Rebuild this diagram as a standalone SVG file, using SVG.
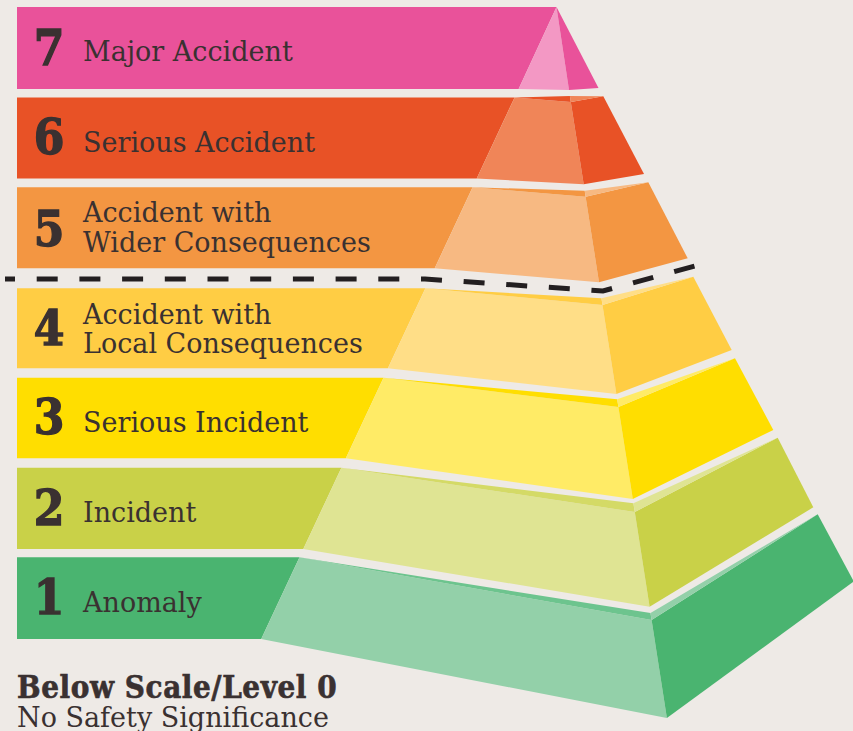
<svg xmlns="http://www.w3.org/2000/svg" width="853" height="731" viewBox="0 0 853 731">
<style>
.num{font-family:"DejaVu Serif Condensed","DejaVu Serif",serif;font-weight:bold;font-size:49px;fill:#3a3131;stroke:#3a3131;stroke-width:1.3;text-anchor:middle}
.lbl{font-family:"DejaVu Serif",serif;font-size:27px;fill:#3a3131}
.l7d{fill:#e9529a}.l7l{fill:#f398c4}
.l6d{fill:#e85226}.l6l{fill:#f08558}
.l5d{fill:#f39642}.l5l{fill:#f7b982}
.l4d{fill:#ffcd44}.l4l{fill:#ffde87}
.l3d{fill:#ffde00}.l3l{fill:#ffeb66}
.l2d{fill:#c9d148}.l2l{fill:#dfe493}.l2s{fill:#d4da66}
.l1d{fill:#4ab470}.l1l{fill:#93d0a9}.l1s{fill:#6dc48e}
</style>
<rect width="853" height="731" fill="#eeeae6"/>
<g id="level7">
<polygon class="l7d" points="17,7 556.5,7 518.6,89 17,89"/>
<polygon class="l7l" points="556.5,7 569,90 518.6,89"/>
<polygon class="l7d" points="556.5,7 598.5,88 569,90"/>
<text class="num" x="49" y="65">7</text>
<text class="lbl" x="83" y="61">Major Accident</text>
</g>
<g id="level6">
<polygon class="l6d" points="17,97.5 514.6,97.5 476.7,178.5 17,178.5"/>
<polygon class="l6l" points="514.6,97.5 570.8,102 583.7,184.3 476.7,178.5"/>
<polygon class="l6d" points="514.6,97.5 569.9,96 570.8,102"/>
<polygon class="l6d" points="570.8,102 603.3,96.3 644,174 583.7,184.3"/>
<polygon class="l6l" points="569.9,96 603.3,96.3 570.8,102"/>
<text class="num" x="49" y="154">6</text>
<text class="lbl" x="83" y="151.5">Serious Accident</text>
</g>
<g id="level5">
<polygon class="l5d" points="17,187.3 472.6,187.3 434.7,268.3 17,268.3"/>
<polygon class="l5l" points="472.6,187.3 585.6,196.7 599,282.3 434.7,268.3"/>
<polygon class="l5d" points="472.6,187.3 584.7,190.7 585.6,196.7"/>
<polygon class="l5d" points="585.6,196.7 648.3,182.3 687.7,258.3 599,282.3"/>
<polygon class="l5l" points="584.7,190.7 648.3,182.3 585.6,196.7"/>
<text class="num" x="49" y="246">5</text>
<text class="lbl" x="83" y="221.5">Accident with</text>
<text class="lbl" x="83" y="252">Wider Consequences</text>
</g>
<g id="level4">
<polygon class="l4d" points="17,288.3 425.4,288.3 387.9,368.3 17,368.3"/>
<polygon class="l4l" points="425.4,288.3 602.5,305 616.4,394 387.9,368.3"/>
<polygon class="l4d" points="425.4,288.3 601.4,298.3 602.5,305"/>
<polygon class="l4d" points="602.5,305 693.3,276.7 731.7,350 616.4,394"/>
<polygon class="l4l" points="601.4,298.3 693.3,276.7 602.5,305"/>
<text class="num" x="49" y="345">4</text>
<text class="lbl" x="83" y="324">Accident with</text>
<text class="lbl" x="83" y="352.5">Local Consequences</text>
</g>
<g id="level3">
<polygon class="l3d" points="17,377.7 383.5,377.7 345.8,458.3 17,458.3"/>
<polygon class="l3l" points="383.5,377.7 618.4,407 632.8,499 345.8,458.3"/>
<polygon class="l3d" points="383.5,377.7 617.2,399.3 618.4,407"/>
<polygon class="l3d" points="618.4,407 735,358.3 773.3,430 632.8,499"/>
<polygon class="l3l" points="617.2,399.3 735,358.3 618.4,407"/>
<text class="num" x="49" y="434">3</text>
<text class="lbl" x="83" y="431.5">Serious Incident</text>
</g>
<g id="level2">
<polygon class="l2d" points="17,467.7 341.4,467.7 303.3,549 17,549"/>
<polygon class="l2l" points="341.4,467.7 634.8,512 649.6,606.7 303.3,549"/>
<polygon class="l2s" points="341.4,467.7 633.4,503.3 634.8,512"/>
<polygon class="l2d" points="634.8,512 777.7,437.7 813.3,507.3 649.6,606.7"/>
<polygon class="l2l" points="633.4,503.3 777.7,437.7 634.8,512"/>
<text class="num" x="49" y="525">2</text>
<text class="lbl" x="83" y="522">Incident</text>
</g>
<g id="level1">
<polygon class="l1d" points="17,557.3 299.5,557.3 261.2,639 17,639"/>
<polygon class="l1l" points="299.5,557.3 651.6,620 666.9,718 261.2,639"/>
<polygon class="l1s" points="299.5,557.3 650.5,613 651.6,620"/>
<polygon class="l1d" points="651.6,620 817.7,514.3 853,580 853,582 666.9,718"/>
<polygon class="l1l" points="650.5,613 817.7,514.3 651.6,620"/>
<text class="num" x="49" y="614">1</text>
<text class="lbl" x="83" y="611.5">Anomaly</text>
</g>
<g id="connectors">
<path d="M5,279 L425,279 L603,291 L702,264" fill="none" stroke="#231f20" stroke-width="5" stroke-dasharray="21 21.7" stroke-dashoffset="11"/>
</g>
<g id="level0">
<text x="17" y="698" style="font-family:'DejaVu Serif Condensed','DejaVu Serif',serif;font-weight:bold;font-size:31px;letter-spacing:0.6px;fill:#3a3131;stroke:#3a3131;stroke-width:0.6">Below Scale/Level 0</text>
<text x="17" y="727" style="font-family:'DejaVu Serif',serif;font-size:27px;fill:#3a3131">No Safety Significance</text>
</g>
</svg>
